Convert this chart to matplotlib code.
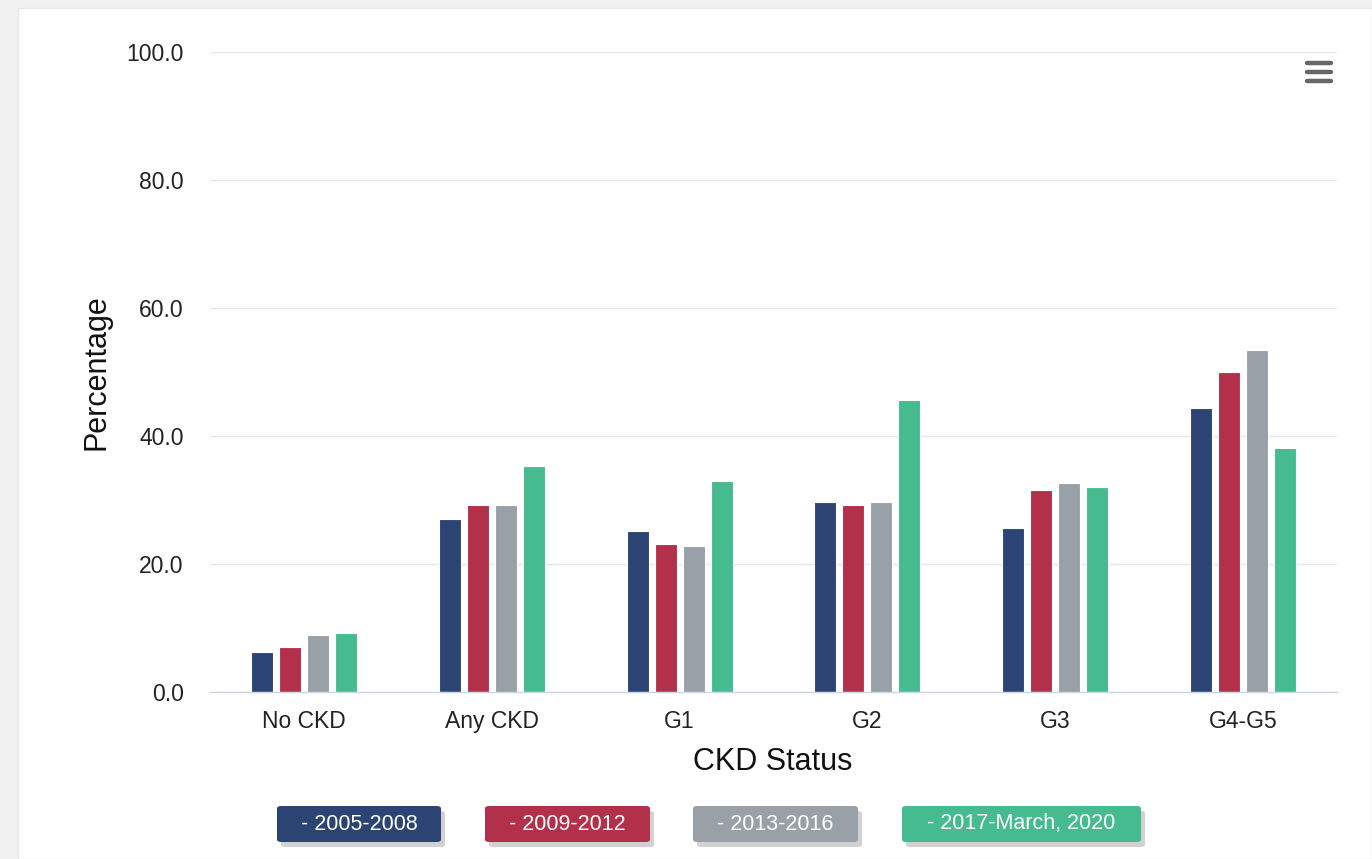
import numpy as np
import matplotlib.pyplot as plt
from matplotlib.patches import FancyBboxPatch, Rectangle
from matplotlib.lines import Line2D

# Data
categories = ["No CKD", "Any CKD", "G1", "G2", "G3", "G4-G5"]
series_names = ["2005-2008", "2009-2012", "2013-2016", "2017-March, 2020"]
s_2005_2008 = [6.2, 27.1, 25.2, 29.7, 25.7, 44.4]
s_2009_2012 = [7.0, 29.2, 23.1, 29.2, 31.6, 50.0]
s_2013_2016 = [8.9, 29.2, 22.8, 29.7, 32.7, 53.5]
s_2017_2020 = [9.2, 35.3, 32.9, 45.7, 32.1, 38.2]
colors = ["#2c4473", "#b3304a", "#99a0a8", "#46bb8f"]
yticks = [0, 20, 40, 60, 80, 100]

plt.rcParams['font.family'] = ['Liberation Sans', 'DejaVu Sans']

W, H = 1372, 859
fig = plt.figure(figsize=(W / 100, H / 100), dpi=100, facecolor="#f1f1f1")

# white card behind everything
fig.patches.append(Rectangle((18 / W, 0), 1 - 18 / W, 1 - 8 / H,
                             transform=fig.transFigure, facecolor="white",
                             edgecolor="#e8e8e8", lw=1, zorder=-10))

ax = fig.add_axes([210 / W, 1 - 692 / H, 1127 / W, 640 / H])
ax.set_facecolor("none")

x = np.arange(len(categories))
step = 0.149
width = 0.117
all_series = [s_2005_2008, s_2009_2012, s_2013_2016, s_2017_2020]
for i, vals in enumerate(all_series):
    ax.bar(x + (i - 1.5) * step, vals, width, color=colors[i],
           edgecolor="white", linewidth=0.8, zorder=3)

ax.set_xlim(-0.5, len(categories) - 0.5)
ax.set_ylim(0, 100)
ax.set_yticks(yticks)
ax.set_yticklabels([f"{v:.1f}" for v in yticks])
ax.set_xticks(x)
ax.set_xticklabels(categories)
ax.tick_params(axis="y", length=0, pad=19, labelsize=16.5, labelcolor="#222222")
ax.tick_params(axis="x", length=0, pad=13, labelsize=16.5, labelcolor="#222222")

ax.grid(axis="y", color="#e6e6e6", lw=1, zorder=0)
for s in ["top", "right", "left"]:
    ax.spines[s].set_visible(False)
ax.spines["bottom"].set_color("#ccd6eb")
ax.spines["bottom"].set_linewidth(1)
ax.spines["bottom"].set_zorder(4)

ax.set_xlabel("CKD Status", fontsize=22, color="#111111")
ax.xaxis.label.set_va("center")
ax.xaxis.set_label_coords(0.4996, -0.109)
ax.set_ylabel("Percentage", fontsize=22, color="#111111")
ax.yaxis.label.set_va("center")
ax.yaxis.set_label_coords(-0.1003, 0.5)

# legend buttons
boxes = [(277, 441), (485, 650), (693, 858), (902, 1141)]
y0, y1 = 806, 842
for (bx0, bx1), name, c in zip(boxes, series_names, colors):
    fig.patches.append(FancyBboxPatch(
        ((bx0 + 4) / W, 1 - (y1 + 5) / H), (bx1 - bx0) / W, (y1 - y0) / H,
        boxstyle="round,pad=0,rounding_size=0.003", transform=fig.transFigure,
        facecolor="#000000", alpha=0.18, edgecolor="none", zorder=1))
    fig.patches.append(FancyBboxPatch(
        (bx0 / W, 1 - y1 / H), (bx1 - bx0) / W, (y1 - y0) / H,
        boxstyle="round,pad=0,rounding_size=0.003", transform=fig.transFigure,
        facecolor=c, edgecolor="none", zorder=2))
    fig.text((bx0 + bx1) / 2 / W, 1 - (y0 + y1) / 2 / H, "- " + name,
             ha="center", va="center", color="white", fontsize=15.5,
             zorder=3)

# menu icon
for yy in [63, 72, 81]:
    fig.lines.append(Line2D([1307 / W, 1331 / W], [1 - yy / H, 1 - yy / H],
                            transform=fig.transFigure, color="#666666",
                            lw=3.2, solid_capstyle="round"))

fig.savefig("out.png", dpi=100, facecolor=fig.get_facecolor())
